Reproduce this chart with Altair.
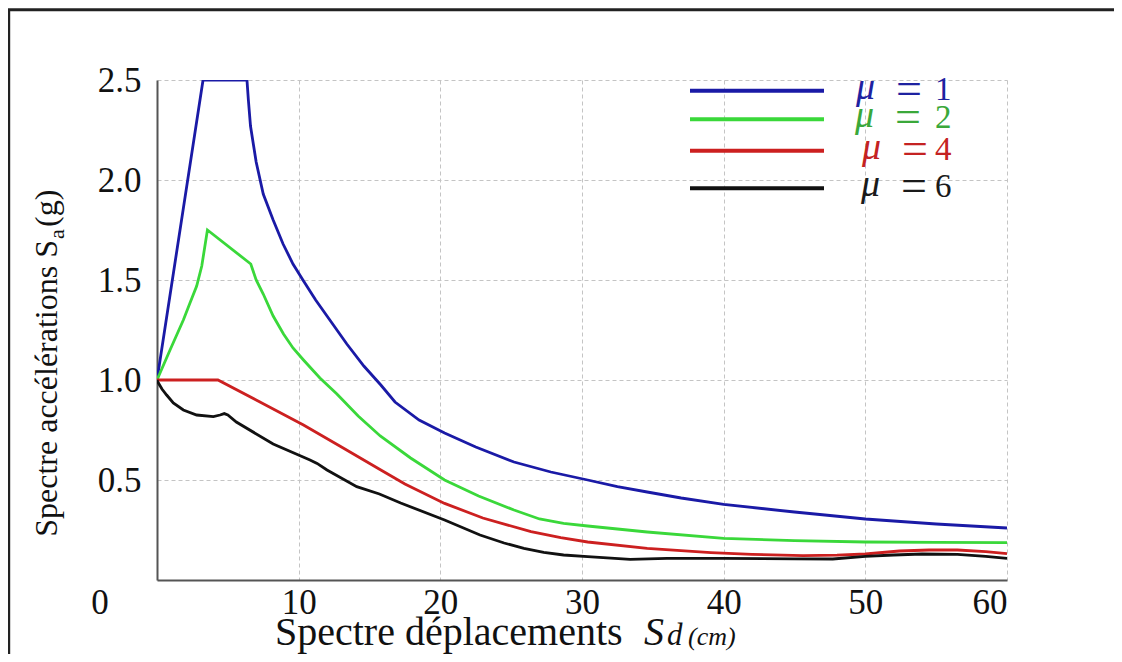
import altair as alt
import pandas as pd

# ---------------- data ----------------
sd_mu1 = [0, 3.25, 6.35, 6.45, 6.6, 7.0, 7.5, 8.2, 8.9, 9.6, 10.3, 11.2, 12.2, 13.4, 14.6, 15.8, 16.8,
          18.5, 20.3, 22.5, 25.2, 27.8, 30.4, 32.5, 34.6, 37, 40, 45, 50, 55, 60]
sa_mu1 = [1.0, 2.5, 2.5, 2.4, 2.27, 2.09, 1.93, 1.80, 1.68, 1.58, 1.5, 1.40, 1.3, 1.18, 1.07, 0.975, 0.89,
          0.80, 0.735, 0.665, 0.59, 0.54, 0.50, 0.467, 0.44, 0.41, 0.378, 0.34, 0.305, 0.28, 0.26]

sd_mu2 = [0, 0.92, 1.86, 2.3, 2.8, 3.16, 3.56, 6.62, 7.0, 7.5, 8.2, 8.93, 9.6, 10.34, 11.5, 12.7, 14.2,
          15.76, 17.9, 20.3, 22.7, 25.2, 27.0, 28.7, 30.4, 34.6, 40, 45, 50, 55, 60]
sa_mu2 = [1.0, 1.15, 1.3, 1.38, 1.47, 1.57, 1.75, 1.58, 1.50, 1.43, 1.32, 1.23, 1.16, 1.1, 1.01, 0.93, 0.82,
          0.72, 0.61, 0.50, 0.42, 0.35, 0.305, 0.283, 0.27, 0.24, 0.208, 0.197, 0.19, 0.188, 0.187]

sd_mu4 = [0, 4.3, 7.0, 10.34, 12.9, 15.8, 17.5, 20.3, 23.0, 26.4, 28.5, 30.4, 34.6, 39.1, 42, 45.6,
          48, 50, 52.4, 54.5, 56.5, 58.5, 60]
sa_mu4 = [1.0, 1.0, 0.9, 0.775, 0.67, 0.55, 0.48, 0.383, 0.31, 0.242, 0.212, 0.19, 0.158, 0.137, 0.128, 0.122,
          0.124, 0.13, 0.145, 0.15, 0.15, 0.142, 0.132]

sd_mu6 = [0, 0.1, 0.35, 0.68, 1.15, 1.86, 2.8, 3.98, 4.45, 4.75, 5.0, 5.6, 8.2, 10.8, 11.3, 12.0, 14.1,
          15.7, 17.2, 20.3, 22.8, 24.5, 25.9, 27.3, 28.7, 30.4, 33.4, 36, 40, 45, 47.7, 50, 52, 54,
          56.5, 58.5, 60]
sa_mu6 = [1.0, 0.985, 0.955, 0.925, 0.885, 0.85, 0.825, 0.817, 0.825, 0.832, 0.825, 0.79, 0.68, 0.60,
          0.583, 0.55, 0.467, 0.43, 0.385, 0.30, 0.225, 0.185, 0.158, 0.138, 0.125, 0.117, 0.103, 0.108,
          0.108, 0.106, 0.105, 0.118, 0.125, 0.13, 0.128, 0.118, 0.108]

series_names = ["μ = 1", "μ = 2", "μ = 4", "μ = 6"]
series_digits = ["1", "2", "4", "6"]
x_ticks = [10, 20, 30, 40, 50, 60]
y_ticks = [0.5, 1.0, 1.5, 2.0, 2.5]

# ---------------- styles ----------------
line_colors = ["#1a1aa6", "#3ad83a", "#cc2020", "#111111"]
text_colors = ["#1e22a0", "#3aa83a", "#c42222", "#1a1a1a"]
SERIF = "Liberation Serif"
W, H = 850, 500

rows = []
for name, sds, sas in zip(series_names, [sd_mu1, sd_mu2, sd_mu4, sd_mu6],
                          [sa_mu1, sa_mu2, sa_mu4, sa_mu6]):
    for a, b in zip(sds, sas):
        rows.append({"serie": name, "Sd": a, "Sa": b})
df = pd.DataFrame(rows)

x_scale = alt.Scale(domain=[0, 60], nice=False, zero=False)
y_scale = alt.Scale(domain=[0, 2.5], nice=False)

lines = alt.Chart(df).mark_line(strokeWidth=2.8, clip=True).encode(
    x=alt.X("Sd:Q", scale=x_scale,
            axis=alt.Axis(values=x_ticks, title=None, grid=True, ticks=False,
                          gridDash=[4, 3], gridColor="#c4c4c4", gridWidth=1,
                          domainColor="#555555", domainWidth=2,
                          labelFont=SERIF, labelFontSize=35, labelColor="#111111",
                          labelPadding=5, format="d")),
    y=alt.Y("Sa:Q", scale=y_scale,
            axis=alt.Axis(values=y_ticks, title=None, grid=True, ticks=False,
                          gridDash=[4, 3], gridColor="#c4c4c4", gridWidth=1,
                          domainColor="#555555", domainWidth=2,
                          labelFont=SERIF, labelFontSize=35, labelColor="#111111",
                          labelPadding=16, format=".1f")),
    color=alt.Color("serie:N", scale=alt.Scale(domain=series_names, range=line_colors), legend=None),
    detail="serie:N",
)

one = pd.DataFrame({"k": [0]})
base = alt.Chart(one)

layers = [lines]

# corner "0" label
layers.append(base.mark_text(font=SERIF, fontSize=35, color="#111111", align="center",
                             baseline="middle", clip=False).encode(
    x=alt.value(-57), y=alt.value(523), text=alt.value("0")))

# frame (top and left lines visible in reference)
layers.append(base.mark_rule(color="#222222", strokeWidth=3, clip=False).encode(
    x=alt.value(-148.3), y=alt.value(-70.3), y2=alt.value(H + 100)))
layers.append(base.mark_rule(color="#222222", strokeWidth=3, clip=False).encode(
    x=alt.value(-150), x2=alt.value(W + 120), y=alt.value(-70.3)))

# legend
leg_line_y = [10.7, 39.3, 70.7, 108.3]
leg_dx = [0, -1, 6, 5]
for i in range(4):
    ly = leg_line_y[i]
    layers.append(base.mark_rule(color=line_colors[i], strokeWidth=4, clip=False).encode(
        x=alt.value(533), x2=alt.value(667), y=alt.value(ly)))
    layers.append(base.mark_text(font=SERIF, fontSize=38, fontStyle="italic", color=text_colors[i],
                                 align="left", baseline="alphabetic", clip=False).encode(
        x=alt.value(699 + leg_dx[i]), y=alt.value(ly + 8), text=alt.value("μ")))
    layers.append(base.mark_text(font=SERIF, fontSize=46, color=text_colors[i],
                                 align="left", baseline="alphabetic", clip=False).encode(
        x=alt.value(739 + leg_dx[i]), y=alt.value(ly + 13), text=alt.value("=")))
    layers.append(base.mark_text(font=SERIF, fontSize=33, color=text_colors[i],
                                 align="left", baseline="alphabetic", clip=False).encode(
        x=alt.value(778), y=alt.value(ly + 9), text=alt.value(series_digits[i])))

# y axis title (with subscript)
layers.append(base.mark_text(font=SERIF, fontSize=32, color="#111111", angle=270,
                             align="right", baseline="middle", clip=False).encode(
    x=alt.value(-110), y=alt.value(160), text=alt.value("Spectre accélérations S")))
layers.append(base.mark_text(font=SERIF, fontSize=22, color="#111111", angle=270,
                             align="left", baseline="middle", clip=False).encode(
    x=alt.value(-100), y=alt.value(159), text=alt.value("a")))
layers.append(base.mark_text(font=SERIF, fontSize=32, color="#111111", angle=270,
                             align="left", baseline="middle", clip=False).encode(
    x=alt.value(-110), y=alt.value(147), text=alt.value("(g)")))

# x axis title
layers.append(base.mark_text(font=SERIF, fontSize=40, color="#111111",
                             align="left", baseline="alphabetic", clip=False).encode(
    x=alt.value(118), y=alt.value(565), text=alt.value("Spectre déplacements")))
layers.append(base.mark_text(font=SERIF, fontSize=40, fontStyle="italic", color="#111111",
                             align="left", baseline="alphabetic", clip=False).encode(
    x=alt.value(487), y=alt.value(565), text=alt.value("S")))
layers.append(base.mark_text(font=SERIF, fontSize=31, fontStyle="italic", color="#111111",
                             align="left", baseline="alphabetic", clip=False).encode(
    x=alt.value(510), y=alt.value(565), text=alt.value("d")))
layers.append(base.mark_text(font=SERIF, fontSize=26, fontStyle="italic", color="#111111",
                             align="left", baseline="alphabetic", clip=False).encode(
    x=alt.value(531), y=alt.value(565), text=alt.value("(cm)")))

chart = alt.layer(*layers).properties(
    width=W, height=H,
    autosize=alt.AutoSizeParams(type="none"),
    padding={"left": 149, "top": 72, "right": 107, "bottom": 74},
    background="white",
).configure_view(stroke=None)

chart.save("out.html", embed_options={"renderer": "svg", "actions": False})
